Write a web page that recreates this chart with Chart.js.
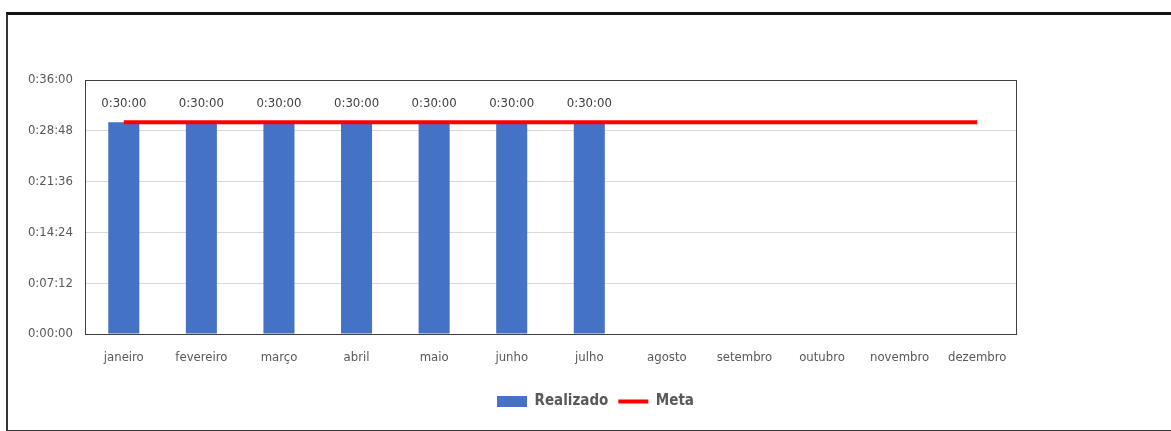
<!DOCTYPE html>
<html>
<head>
<meta charset="utf-8">
<script src="https://cdn.jsdelivr.net/npm/chart.js@4"></script>
<style>
  body { margin: 0; background: #fff; }
  #wrap { position: relative; width: 1171px; height: 431px; overflow: hidden; }
  #frame {
    position: absolute; left: 6px; top: 12px; width: 1200px; height: 415px;
    border-top: 3px solid #111; border-left: 2px solid #333; border-bottom: 2px solid #333;
  }
  canvas { position: absolute; left: 0; top: 0; }
</style>
</head>
<body>
<div id="wrap">
  <div id="frame"></div>
  <canvas id="myChart" width="1171" height="431"></canvas>
</div>
<script>
// months on the x axis
const months = ["janeiro", "fevereiro", "março", "abril", "maio", "junho", "julho",
  "agosto", "setembro", "outubro", "novembro", "dezembro"];

// ! values (h:mm:ss), empty months are null
const realizado = ["0:30:00", "0:30:00", "0:30:00", "0:30:00", "0:30:00", "0:30:00", "0:30:00",
  null, null, null, null, null];
const meta = ["0:30:00", "0:30:00", "0:30:00", "0:30:00", "0:30:00", "0:30:00",
  "0:30:00", "0:30:00", "0:30:00", "0:30:00", "0:30:00", "0:30:00"];

// y axis goes 0:00:00 .. 0:36:00 in steps of 0:07:12
const yMax = "0:36:00";
const yStep = "0:07:12";

const fontFamily = "'Liberation Sans Narrow', 'DejaVu Sans Condensed', 'Arial Narrow', sans-serif";

function toSeconds(t) {
  if (t === null) return null;
  const p = t.split(":").map(Number);
  return p[0] * 3600 + p[1] * 60 + p[2];
}

function toClock(s) {
  const h = Math.floor(s / 3600);
  const m = Math.floor((s % 3600) / 60);
  const sec = Math.round(s % 60);
  return h + ":" + String(m).padStart(2, "0") + ":" + String(sec).padStart(2, "0");
}

// draws the box round the plot area
const plotBorder = {
  id: "plotBorder",
  afterDraw(chart) {
    const { ctx, chartArea } = chart;
    ctx.save();
    ctx.strokeStyle = "#404040";
    ctx.lineWidth = 1;
    ctx.strokeRect(chartArea.left + 0.5, chartArea.top + 0.5,
      chartArea.right - chartArea.left, chartArea.bottom - chartArea.top);
    ctx.restore();
  },
};

// ! value labels above the bars
const barLabels = {
  id: "barLabels",
  afterDatasetsDraw(chart) {
    const { ctx } = chart;
    const metaBars = chart.getDatasetMeta(0);
    ctx.save();
    ctx.font = "13px " + fontFamily;
    ctx.fillStyle = "#404040";
    ctx.textAlign = "center";
    ctx.textBaseline = "middle";
    metaBars.data.forEach((bar, i) => {
      const v = chart.data.datasets[0].data[i];
      if (v === null) return;
      ctx.fillText(toClock(v), bar.x, bar.y - 19);
    });
    ctx.restore();
  },
};

const data = {
  labels: months,
  datasets: [
    {
      type: "bar",
      label: "Realizado",
      data: realizado.map(toSeconds),
      backgroundColor: "#4472C4",
      categoryPercentage: 0.8,
      barPercentage: 0.5,
      order: 2,
      pointStyle: "rect",
    },
    {
      type: "line",
      label: "Meta",
      data: meta.map(toSeconds),
      borderColor: "#FF0000",
      backgroundColor: "#FF0000",
      borderWidth: 4,
      pointRadius: 0,
      order: 1,
      pointStyle: "line",
    },
  ],
};

const config = {
  type: "bar",
  data,
  options: {
    responsive: false,
    animation: false,
    devicePixelRatio: 1,
    layout: { padding: { top: 80, bottom: 12, left: 20, right: 0 } },
    plugins: {
      tooltip: { enabled: false },
      legend: {
        position: "bottom",
        labels: {
          usePointStyle: true,
          pointStyleWidth: 30,
          boxHeight: 11,
          padding: 10,
          color: "#595959",
          font: { family: fontFamily, size: 15, weight: "bold" },
          sort: (a, b) => a.datasetIndex - b.datasetIndex,
        },
      },
    },
    scales: {
      x: {
        grid: { display: false, drawTicks: false },
        border: { display: false },
        ticks: { color: "#595959", padding: 16, font: { family: fontFamily, size: 13 } },
        afterFit: (s) => { s.height = 50; },
      },
      y: {
        min: 0,
        max: toSeconds(yMax),
        grid: { color: "#d9d9d9", drawTicks: false },
        border: { display: false },
        ticks: {
          stepSize: toSeconds(yStep),
          padding: 12,
          color: "#595959",
          font: { family: fontFamily, size: 13 },
          callback: (v) => toClock(v),
        },
        afterFit: (s) => { s.width = 65; },
      },
      // empty axis on the right so the plot stops where the picture does
      yRight: {
        position: "right",
        display: true,
        grid: { display: false, drawTicks: false },
        border: { display: false },
        ticks: { display: false },
        afterFit: (s) => { s.width = 155; },
      },
    },
  },
  plugins: [plotBorder, barLabels],
};

const myChart = new Chart(document.getElementById("myChart"), config);
</script>
</body>
</html>
